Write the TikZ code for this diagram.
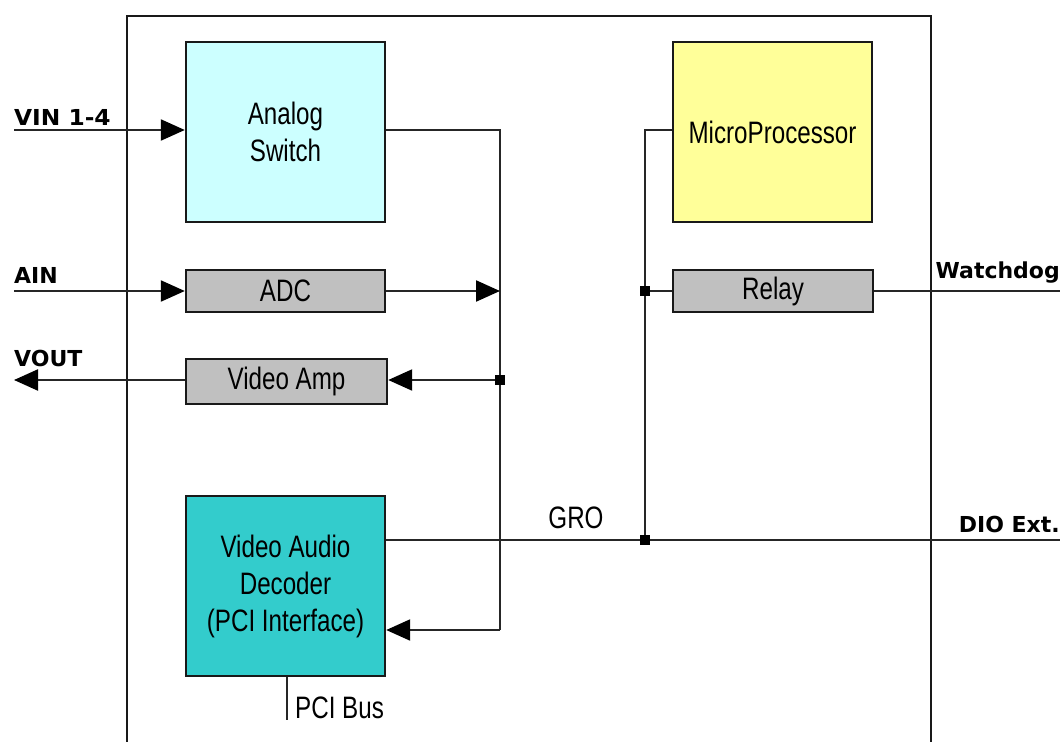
\documentclass[tikz,border=0pt]{standalone}
\usepackage{fontspec}
\usepackage{graphicx}
\setmainfont{Liberation Sans}
\newfontfamily\lblfont{DejaVu Sans}
\usetikzlibrary{arrows.meta}
\newcommand\bxt[1]{\scalebox{0.78}[1]{#1}}
\tikzset{
  blk/.style={draw=black!90, line width=2.4pt, inner sep=0pt, align=center,
    font=\fontsize{31}{37}\selectfont},
  conn/.style={draw=black!85, line width=2.2pt},
  arr/.style={conn, -{Triangle[length=24pt,width=21pt,color=black]}},
  lbl/.style={inner sep=0pt, font=\lblfont\bfseries\fontsize{22}{26}\selectfont},
  dot/.style={fill=black, minimum size=10pt, inner sep=0pt, draw=none, rectangle}
}
\begin{document}
\begin{tikzpicture}[x=1pt,y=-1pt]
\useasboundingbox (0,0) rectangle (1064,741);
% outer frame
\draw[black!90, line width=2.2pt] (127,745) -- (127,16) -- (931,16) -- (931,745);
% blocks
\node[blk, fill={rgb,255:red,204;green,255;blue,255}, minimum width=199pt, minimum height=180pt] (asw) at (285.5,132) {\bxt{Analog}\\\bxt{Switch}};
\node[blk, fill={rgb,255:red,255;green,255;blue,153}, minimum width=199pt, minimum height=180pt] (mp) at (772.5,132) {\bxt{MicroProcessor}};
\node[blk, fill={rgb,255:red,192;green,192;blue,192}, minimum width=199pt, minimum height=42pt] (adc) at (285.5,291) {\bxt{ADC}};
\node[blk, fill={rgb,255:red,192;green,192;blue,192}, minimum width=200pt, minimum height=42pt] (relay) at (773,291) {\bxt{Relay}};
\node[blk, fill={rgb,255:red,192;green,192;blue,192}, minimum width=201pt, minimum height=45pt] (vamp) at (286.5,381.5) {\bxt{Video Amp}};
\node[blk, fill={rgb,255:red,51;green,204;blue,204}, minimum width=199pt, minimum height=180pt] (dec) at (285.5,586) {\bxt{Video Audio}\\\bxt{Decoder}\\\bxt{(PCI Interface)}};
% coordinates
\coordinate (vin) at (14,130);
\coordinate (ain) at (14,291);
\coordinate (vout) at (14,380);
\coordinate (busT) at (500,130);
\coordinate (busA) at (500,291);
\coordinate (busV) at (500,380);
\coordinate (busB) at (500,630);
\coordinate (mpL) at (645,130);
\coordinate (jR) at (645,291);
\coordinate (jG) at (645,540);
\coordinate (wd) at (1060,291);
\coordinate (dio) at (1060,540);
\coordinate (pci) at (287,720);
% connectors
\draw[arr] (vin) -- (asw.west |- vin);
\draw[conn] (asw.east |- busT) -- (busT) -- (busB);
\draw[arr] (busB) -- (dec.east |- busB);
\draw[arr] (ain) -- (adc.west);
\draw[arr] (adc.east) -- (busA);
\draw[arr] (busV) -- (vamp.east |- busV);
\draw[arr] (vamp.west |- vout) -- (vout);
\draw[conn] (mp.west |- mpL) -- (mpL) -- (jG);
\draw[conn] (jR) -- (relay.west);
\draw[conn] (relay.east) -- (wd);
\draw[conn] (dec.east |- jG) -- (dio);
\draw[conn] (dec.south -| pci) -- (pci);
% junction dots
\node[dot] (d1) at (busV) {};
\node[dot] (d2) at (jR) {};
\node[dot] (d3) at (jG) {};
% labels
\node[lbl, anchor=south west] (lvin) at (14,126) {\scalebox{1.06}[1]{VIN 1-4}};
\node[lbl, anchor=south west] (lain) at (14,284) {AIN};
\node[lbl, anchor=south west] (lvout) at (14,367) {VOUT};
\node[lbl, anchor=south east] (lwd) at (1060,283) {Watchdog};
\node[lbl, anchor=south east] (ldio) at (1060,533) {DIO Ext.};
\node[inner sep=0pt, font=\fontsize{31}{37}\selectfont] (lgro) at (576,518) {\bxt{GRO}};
\node[inner sep=0pt, font=\fontsize{31}{37}\selectfont, anchor=west] (lpci) at (295,708) {\bxt{PCI Bus}};
\end{tikzpicture}
\end{document}
